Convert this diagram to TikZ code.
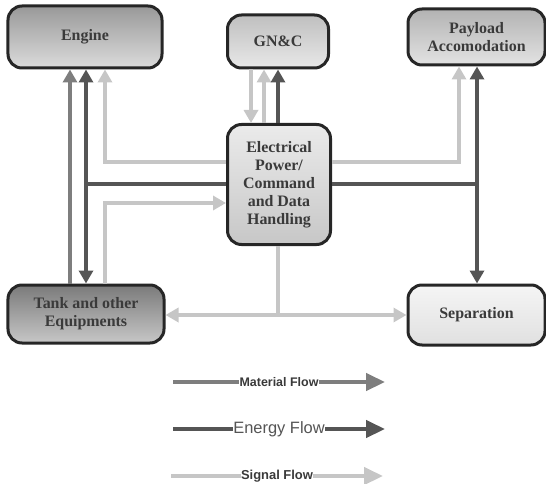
\documentclass[tikz,border=0pt]{standalone}
\usepackage{fontspec}
\setmainfont{Liberation Serif}
\newfontfamily\legendfont{Liberation Sans}
\usetikzlibrary{arrows.meta}

\definecolor{matc}{HTML}{7E7E7E}
\definecolor{enc}{HTML}{555555}
\definecolor{sigc}{HTML}{C6C6C6}
\definecolor{txt}{HTML}{3A3A3A}

\tikzset{
  blk/.style={draw=black!85, line width=3bp, rounded corners=14bp, align=center,
    font=\fontsize{16}{18}\selectfont\bfseries, text=txt, inner sep=0pt},
  tip/.style={-{Triangle[length=13bp,width=14bp]}},
  bigtip/.style={-{Triangle[length=19bp,width=17bp]}},
  twotip/.style={{Triangle[length=13bp,width=14bp]}-{Triangle[length=13bp,width=14bp]}},
  material/.style={draw=matc, line width=4.5bp},
  energy/.style={draw=enc, line width=4.5bp},
  signal/.style={draw=sigc, line width=4.5bp},
  legtext/.style={fill=white, inner xsep=0.5bp, inner ysep=1bp, text=txt}
}

\begin{document}
\begin{tikzpicture}[x=1bp, y=-1bp]
  \useasboundingbox (0,0) rectangle (546,484);

  % blocks
  \node[blk, minimum width=154bp, minimum height=62bp, top color=black!40, bottom color=black!14]
    (engine) at (85,37) {Engine};
  \node[blk, minimum width=101bp, minimum height=53bp, top color=black!25, bottom color=black!9]
    (gnc) at (278,41.5) {GN\&C};
  \node[blk, minimum width=137bp, minimum height=56bp, top color=black!30, bottom color=black!11]
    (payload) at (476.5,37) {Payload\\Accomodation};
  \node[blk, minimum width=103bp, minimum height=120bp, top color=black!8, bottom color=black!22]
    (central) at (279,184.5) {Electrical\\Power/\\Command\\and Data\\Handling};
  \node[blk, minimum width=156bp, minimum height=58bp, top color=black!52, bottom color=black!22]
    (tank) at (86,314) {Tank and other\\Equipments};
  \node[blk, minimum width=137bp, minimum height=60bp, top color=black!4, bottom color=black!12]
    (sep) at (476.5,315) {Separation};

  % routing lanes
  \coordinate (xM)  at (70,0);
  \coordinate (xEl) at (86,0);
  \coordinate (xSl) at (105,0);
  \coordinate (gS1) at (251,0);
  \coordinate (gS2) at (264,0);
  \coordinate (gE)  at (278,0);
  \coordinate (xSr) at (459,0);
  \coordinate (xEr) at (477,0);
  \coordinate (yS)  at (0,162);
  \coordinate (yE)  at (0,184);
  \coordinate (yT)  at (0,203);
  \coordinate (yB)  at (0,315);

  % left side
  \draw[material, tip] (tank.north -| xM) -- (engine.south -| xM);
  \draw[energy] (central.west |- yE) -- (xEl |- yE);
  \draw[energy, twotip] (engine.south -| xEl) -- (tank.north -| xEl);
  \draw[signal, tip] (central.west |- yS) -| (engine.south -| xSl);
  \draw[signal, tip] (tank.north -| xSl) |- (central.west |- yT);

  % GN&C links
  \draw[signal, tip] (gnc.south -| gS1) -- (central.north -| gS1);
  \draw[signal, tip] (central.north -| gS2) -- (gnc.south -| gS2);
  \draw[energy, tip] (central.north -| gE) -- (gnc.south -| gE);

  % right side
  \draw[signal, tip] (central.east |- yS) -| (payload.south -| xSr);
  \draw[energy] (central.east |- yE) -- (xEr |- yE);
  \draw[energy, twotip] (payload.south -| xEr) -- (sep.north -| xEr);

  % bottom signal bus
  \draw[signal] (central.south -| gE) -- (gE |- yB);
  \draw[signal, tip] (gE |- yB) -- (tank.east |- yB);
  \draw[signal, tip] (gE |- yB) -- (sep.west |- yB);

  % legend
  \coordinate (m1) at (173,382);  \coordinate (m2) at (385,382);
  \coordinate (e1) at (173,429);  \coordinate (e2) at (385,429);
  \coordinate (s1) at (171,476);  \coordinate (s2) at (383,476);
  \draw[material, bigtip] (m1) -- (m2)
    node[pos=0.5, legtext, font=\legendfont\fontsize{12.5}{14}\selectfont\bfseries] (mlab) {Material Flow};
  \draw[energy, bigtip] (e1) -- (e2)
    node[pos=0.5, legtext, text=enc, font=\legendfont\fontsize{16.5}{18}\selectfont] (elab) {Energy Flow};
  \draw[signal, bigtip] (s1) -- (s2)
    node[pos=0.5, legtext, font=\legendfont\fontsize{13}{15}\selectfont\bfseries] (slab) {Signal Flow};
\end{tikzpicture}
\end{document}
